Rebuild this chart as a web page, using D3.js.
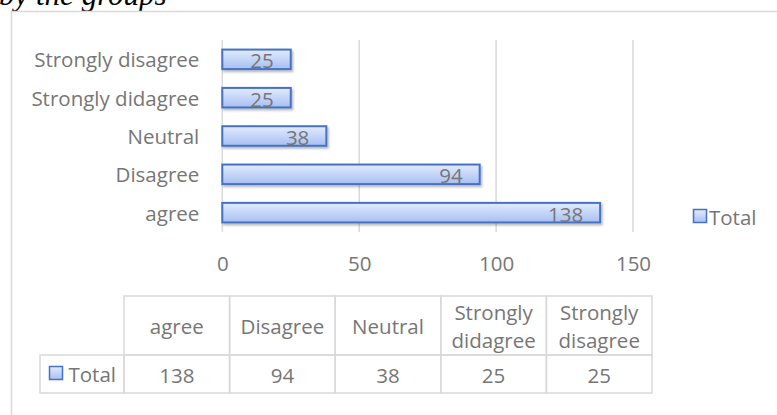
<!DOCTYPE html>
<html>
<head>
<meta charset="utf-8">
<script src="https://cdn.jsdelivr.net/npm/d3@7"></script>
<style>
  html, body { margin: 0; padding: 0; background: #fff; }
  svg { display: block; }
  text { font-family: "Open Sans", "Noto Sans", sans-serif; fill: #767676; }
</style>
</head>
<body>
<svg id="chart" width="777" height="415"></svg>
<script>
// Responses per answer category
const categories = ["agree", "Disagree", "Neutral", "Strongly didagree", "Strongly disagree"];
const totals = [138, 94, 38, 25, 25];
const seriesName = "Total";
const xTicks = [0, 50, 100, 150];
// Table header lines (long names wrap onto two lines)
const headerLines = [["agree"], ["Disagree"], ["Neutral"], ["Strongly", "didagree"], ["Strongly", "disagree"]];

const svg = d3.select("#chart");
const W = 777, H = 415;
const fontSize = 20.5;

svg.append("rect").attr("width", W).attr("height", H).attr("fill", "#fff");

// Caption text sitting above the chart frame
svg.append("text")
  .attr("x", -1).attr("y", 5)
  .style("font-family", "'Liberation Serif', 'Times New Roman', serif")
  .style("font-style", "italic")
  .style("font-size", "31px")
  .style("fill", "#000")
  .text("by the groups");

// Chart frame (left and top edges)
svg.append("path")
  .attr("d", `M11.5,${H} V11.5 H${W}`)
  .attr("fill", "none").attr("stroke", "#d9d9d9").attr("stroke-width", 1.5);

const defs = svg.append("defs");
const grad = defs.append("linearGradient").attr("id", "barFill")
  .attr("x1", 0).attr("y1", 0).attr("x2", 0).attr("y2", 1);
grad.append("stop").attr("offset", "0%").attr("stop-color", "#e3ebfd");
grad.append("stop").attr("offset", "100%").attr("stop-color", "#a7bff3");

const shadow = defs.append("filter").attr("id", "barShadow")
  .attr("x", "-5%").attr("y", "-20%").attr("width", "115%").attr("height", "160%");
shadow.append("feDropShadow").attr("dx", 1.5).attr("dy", 2).attr("stdDeviation", 1.2)
  .attr("flood-color", "#000").attr("flood-opacity", 0.28);

const plot = { left: 222.3, right: 633, top: 40, bottom: 232 };

const x = d3.scaleLinear().domain([0, 150]).range([plot.left, plot.right]);
const y = d3.scaleBand()
  .domain(categories.slice().reverse())
  .range([plot.top, plot.bottom])
  .paddingInner(0.49).paddingOuter(0.25);

// Vertical gridlines
svg.append("g").selectAll("line").data(xTicks).join("line")
  .attr("x1", d => x(d)).attr("x2", d => x(d))
  .attr("y1", plot.top).attr("y2", plot.bottom)
  .attr("stroke", "#d9d9d9").attr("stroke-width", 1.5);

// Value axis labels
const xAxis = d3.axisBottom(x).tickValues(xTicks).tickSize(0).tickPadding(0);
const gx = svg.append("g").attr("transform", `translate(0,${plot.bottom + 30.5})`).call(xAxis);
gx.select(".domain").remove();
gx.selectAll("text")
  .attr("dy", null).attr("y", 0)
  .attr("dominant-baseline", "central")
  .style("font-size", fontSize + "px")
  .style("fill", "#767676")
  .style("font-family", "'Open Sans', sans-serif");

// Category axis labels
const yAxis = d3.axisLeft(y).tickSize(0).tickPadding(0);
const gy = svg.append("g").attr("transform", `translate(${plot.left - 23},0)`).call(yAxis);
gy.select(".domain").remove();
gy.selectAll("text")
  .attr("dy", null).attr("x", 0)
  .attr("dominant-baseline", "central")
  .style("font-size", fontSize + "px")
  .style("fill", "#767676")
  .style("font-family", "'Open Sans', sans-serif");

const rows = categories.map((c, i) => ({ cat: c, val: totals[i] }));

// Bars
svg.append("g").selectAll("rect").data(rows).join("rect")
  .attr("x", x(0))
  .attr("y", d => y(d.cat))
  .attr("width", d => x(d.val) - x(0))
  .attr("height", y.bandwidth())
  .attr("fill", "url(#barFill)")
  .attr("stroke", "#4472c4").attr("stroke-width", 2)
  .attr("filter", "url(#barShadow)");

// Value labels inside the bar ends
svg.append("g").selectAll("text").data(rows).join("text")
  .attr("x", d => x(d.val) - 17)
  .attr("y", d => y(d.cat) + y.bandwidth() / 2 + 1)
  .attr("text-anchor", "end")
  .attr("dominant-baseline", "central")
  .style("font-size", fontSize + "px")
  .text(d => d.val);

// Legend
const legend = svg.append("g").attr("transform", "translate(693,209)");
legend.append("rect").attr("x", 0.5).attr("y", 0.5).attr("width", 13).attr("height", 13)
  .attr("fill", "url(#barFill)").attr("stroke", "#4472c4").attr("stroke-width", 1.5);
legend.append("text").attr("x", 16).attr("y", 7.5)
  .attr("dominant-baseline", "central")
  .style("font-size", fontSize + "px").text(seriesName);

// Data table beneath the chart
const tbl = { left: 40, firstCol: 124, right: 652, top: 296, mid: 355, bottom: 393 };
const colX = d3.scaleBand().domain(categories).range([tbl.firstCol, tbl.right]);
const tg = svg.append("g");
const gridStroke = { stroke: "#d9d9d9", width: 1.5 };

// header cells
tg.selectAll("rect.head").data(categories).join("rect").attr("class", "head")
  .attr("x", d => colX(d)).attr("y", tbl.top)
  .attr("width", colX.bandwidth()).attr("height", tbl.mid - tbl.top)
  .attr("fill", "none").attr("stroke", gridStroke.stroke).attr("stroke-width", gridStroke.width);
// value cells
tg.selectAll("rect.val").data(categories).join("rect").attr("class", "val")
  .attr("x", d => colX(d)).attr("y", tbl.mid)
  .attr("width", colX.bandwidth()).attr("height", tbl.bottom - tbl.mid)
  .attr("fill", "none").attr("stroke", gridStroke.stroke).attr("stroke-width", gridStroke.width);
// series name cell
tg.append("rect")
  .attr("x", tbl.left).attr("y", tbl.mid)
  .attr("width", tbl.firstCol - tbl.left).attr("height", tbl.bottom - tbl.mid)
  .attr("fill", "none").attr("stroke", gridStroke.stroke).attr("stroke-width", gridStroke.width);

// header labels
tg.selectAll("text.head").data(categories).join("text").attr("class", "head")
  .attr("text-anchor", "middle")
  .style("font-size", fontSize + "px")
  .each(function (d, i) {
    const lines = headerLines[i];
    const cy = (tbl.top + tbl.mid) / 2;
    const lh = 28;
    d3.select(this).selectAll("tspan").data(lines).join("tspan")
      .attr("x", colX(d) + colX.bandwidth() / 2)
      .attr("y", (l, j) => cy + (j - (lines.length - 1) / 2) * lh)
      .attr("dominant-baseline", "central")
      .text(l => l);
  });

// value labels
tg.selectAll("text.val").data(rows).join("text").attr("class", "val")
  .attr("x", d => colX(d.cat) + colX.bandwidth() / 2)
  .attr("y", (tbl.mid + tbl.bottom) / 2 + 1)
  .attr("text-anchor", "middle")
  .attr("dominant-baseline", "central")
  .style("font-size", fontSize + "px")
  .text(d => d.val);

// series key in the table
tg.append("rect").attr("x", 49.5).attr("y", 366.5).attr("width", 13).attr("height", 13)
  .attr("fill", "url(#barFill)").attr("stroke", "#4472c4").attr("stroke-width", 1.5);
tg.append("text").attr("x", 68.5).attr("y", 374)
  .attr("dominant-baseline", "central")
  .style("font-size", fontSize + "px").text(seriesName);
</script>
</body>
</html>
